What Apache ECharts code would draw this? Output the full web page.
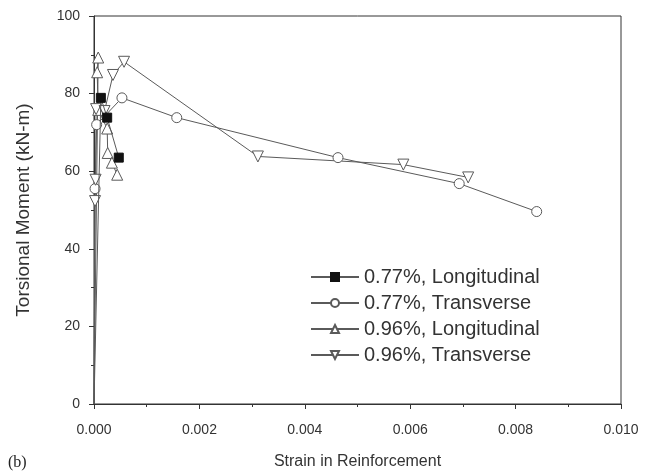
<!DOCTYPE html>
<html>
<head>
<meta charset="utf-8">
<script src="https://cdn.jsdelivr.net/npm/echarts@6/dist/echarts.min.js"></script>
<style>html,body{margin:0;padding:0;background:#fff;}#c{width:654px;height:475px;}</style>
</head>
<body>
<div id="c"></div>
<script>
// Series names
const seriesNames = ['0.77%, Longitudinal', '0.77%, Transverse', '0.96%, Longitudinal', '0.96%, Transverse'];
// [strain, moment kN-m]
const long077 = [[0, 0], [0.00013, 78.9], [0.00025, 73.8], [0.00047, 63.5]];
const trans077 = [[0, 0], [0.00002, 55.5], [0.00005, 72.0], [0.00053, 78.9], [0.00157, 73.8], [0.00463, 63.5], [0.00693, 56.8], [0.0084, 49.6]];
const long096 = [[0, 0], [0.00008, 89.3], [0.00006, 85.5], [0.00008, 75.8], [0.00025, 71.0], [0.00026, 64.7], [0.00034, 62.2], [0.00044, 59.1]];
const trans096 = [[0, 0], [0.00002, 52.3], [0.00003, 57.8], [0.00004, 76.0], [0.0002, 75.5], [0.00036, 84.8], [0.00057, 88.2], [0.00311, 63.8], [0.00587, 61.7], [0.0071, 58.4]];
const xTicks = { min: 0, max: 0.010, interval: 0.002 };
const yTicks = { min: 0, max: 100, interval: 20 };

const lineColor = '#5a5a5a';
function mk(d) {
  return d.map((p, i) => (p[0] === 0 && p[1] === 0) ? { value: p, symbol: 'none' } : { value: p });
}
const chart = echarts.init(document.getElementById('c'), null, { renderer: 'canvas' });
const ff = 'Liberation Sans, Arial, sans-serif';
const axisText = { color: '#333', fontSize: 14, fontFamily: ff };
chart.setOption({
  animation: false,
  backgroundColor: '#fff',
  grid: { left: 94, right: 33, top: 16, bottom: 70, show: true, borderColor: '#333', borderWidth: 1 },
  xAxis: {
    type: 'value', min: xTicks.min, max: xTicks.max, interval: xTicks.interval,
    name: 'Strain in Reinforcement', nameLocation: 'middle', nameGap: 50,
    nameTextStyle: { color: '#333', fontSize: 16, fontFamily: ff },
    axisLine: { show: true, lineStyle: { color: '#333', width: 1 } },
    axisTick: { show: true, inside: false, length: 5, lineStyle: { color: '#333' } },
    minorTick: { show: true, splitNumber: 2, length: 3, lineStyle: { color: '#333' } },
    splitLine: { show: false },
    axisLabel: Object.assign({ margin: 19, formatter: v => v.toFixed(3) }, axisText)
  },
  yAxis: {
    type: 'value', min: yTicks.min, max: yTicks.max, interval: yTicks.interval,
    name: 'Torsional Moment (kN-m)', nameLocation: 'middle', nameGap: 61,
    nameTextStyle: { color: '#333', fontSize: 19, fontFamily: ff },
    axisLine: { show: true, lineStyle: { color: '#333', width: 1 } },
    axisTick: { show: true, inside: false, length: 5, lineStyle: { color: '#333' } },
    minorTick: { show: true, splitNumber: 2, length: 3, lineStyle: { color: '#333' } },
    splitLine: { show: false },
    axisLabel: Object.assign({ margin: 14 }, axisText)
  },
  legend: {
    orient: 'vertical', left: 305, top: 262, itemWidth: 48, itemHeight: 10, itemGap: 6,
    textStyle: { color: '#333', fontSize: 20, fontFamily: ff, padding: [0, 0, 0, 0] },
    data: seriesNames
  },
  graphic: [{ type: 'text', left: 8, top: 455, style: { text: '(b)', font: '16px "Liberation Serif", serif', fill: '#222' } }],
  series: [
    { name: seriesNames[0], type: 'line', data: mk(long077), symbol: 'rect', symbolSize: 9,
      lineStyle: { color: lineColor, width: 1 }, itemStyle: { color: '#111', borderColor: '#111', borderWidth: 1 }, z: 5 },
    { name: seriesNames[1], type: 'line', data: mk(trans077), symbol: 'circle', symbolSize: 10,
      lineStyle: { color: lineColor, width: 1 }, itemStyle: { color: '#fff', borderColor: lineColor, borderWidth: 1 } },
    { name: seriesNames[2], type: 'line', data: mk(long096), symbol: 'triangle', symbolSize: 11,
      lineStyle: { color: lineColor, width: 1 }, itemStyle: { color: '#fff', borderColor: lineColor, borderWidth: 1 } },
    { name: seriesNames[3], type: 'line', data: mk(trans096), symbol: 'triangle', symbolRotate: 180, symbolSize: 11,
      lineStyle: { color: lineColor, width: 1 }, itemStyle: { color: '#fff', borderColor: lineColor, borderWidth: 1 } }
  ]
});
</script>
</body>
</html>
